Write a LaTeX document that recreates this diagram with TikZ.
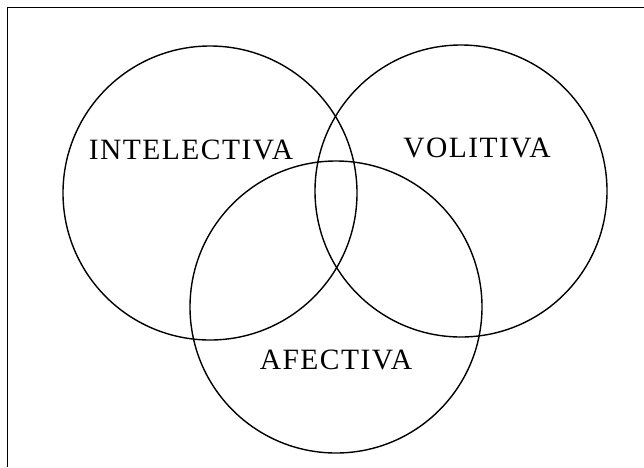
\documentclass[tikz,border=0pt]{standalone}
\usepackage{fontspec}
\setmainfont{Liberation Serif}
\newfontfamily\lblfont[LetterSpace=5]{Liberation Serif}
\begin{document}
\begin{tikzpicture}[x=1pt,y=-1pt,
  ring/.style={circle,draw,line width=1.4pt,inner sep=0pt},
  lbl/.style={font=\lblfont\fontsize{29.5}{30}\selectfont,inner sep=0pt}]
\useasboundingbox (0,0) rectangle (644,467);
\draw[line width=1.8pt] (7.5,467) -- (7.5,7.5) -- (644,7.5);
\node[ring,minimum size=294pt] (intel) at (210,193) {};
\node[ring,minimum size=292pt] (vol) at (461,191) {};
\node[ring,minimum size=292pt] (afe) at (336,307) {};
\node[lbl] (tintel) at (191,150) {INTELECTIVA};
\node[lbl] (tvol) at (477,148) {VOLITIVA};
\node[lbl] (tafe) at (336,360) {AFECTIVA};
\end{tikzpicture}
\end{document}
